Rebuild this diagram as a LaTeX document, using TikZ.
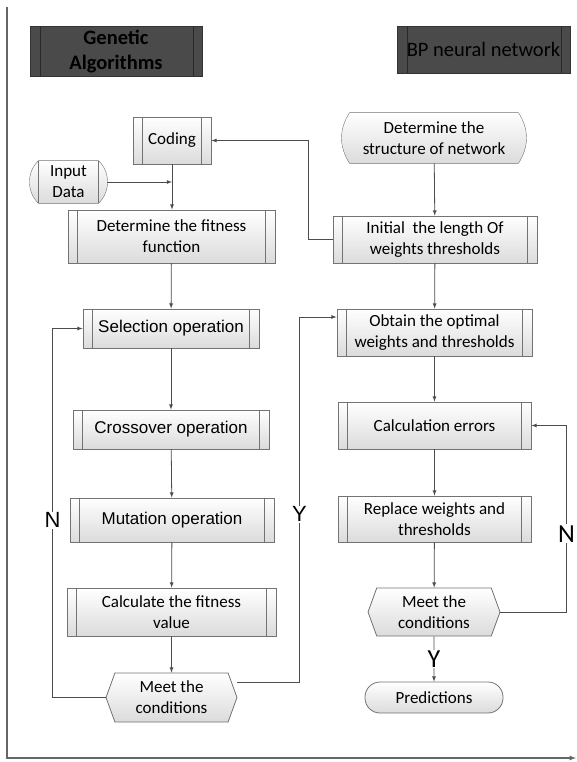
\documentclass[tikz,border=0pt]{standalone}
\usepackage{fontspec}
\setmainfont{Carlito}
\newfontfamily\arialfont{Liberation Sans}
\usetikzlibrary{shapes.geometric, shapes.symbols, arrows, calc, backgrounds}

\tikzstyle{process} = [rectangle,
draw=black!55,
top color=white,
bottom color=black!14,
align=center,
inner sep=2pt,
font=\fontsize{17}{21}\selectfont,
path picture={
\draw[black!55] ([xshift=9.5pt]path picture bounding box.north west) -- ([xshift=9.5pt]path picture bounding box.south west);
\draw[black!55] ([xshift=-9.5pt]path picture bounding box.north east) -- ([xshift=-9.5pt]path picture bounding box.south east);}]
\tikzstyle{arialbox} = [font=\arialfont\fontsize{17}{21}\selectfont]
\tikzstyle{header} = [rectangle,
draw=black!80,
fill=black!71,
align=center,
font=\fontsize{20.5}{24}\selectfont,
path picture={
\draw[black!84] ([xshift=10pt]path picture bounding box.north west) -- ([xshift=10pt]path picture bounding box.south west);
\draw[black!84] ([xshift=-9pt]path picture bounding box.north east) -- ([xshift=-9pt]path picture bounding box.south east);}]
\tikzstyle{decision} = [signal,
signal to=west and east,
signal pointer angle=140,
draw=black!55,
top color=white,
bottom color=black!14,
align=center,
inner sep=1pt,
font=\fontsize{17}{21}\selectfont]
\tikzstyle{startstop} = [rectangle, rounded corners=15pt,
draw=black!55,
top color=white,
bottom color=black!14,
font=\fontsize{17}{21}\selectfont]
\tikzstyle{datain} = [rectangle, align=center, inner sep=2pt,
font=\fontsize{17}{21}\selectfont]
\tikzstyle{datafill} = [draw=black!55, top color=white, bottom color=black!14]
\tikzstyle{arrow} = [->, >=latex, draw=black!70, line width=0.8pt]
\tikzstyle{yn} = [fill=white, inner sep=1pt]

\begin{document}
\begin{tikzpicture}[x=1pt, y=-1pt, line width=0.8pt]
\useasboundingbox (0,0) rectangle (577,762);

% column headers
\node (genetic) [header, minimum width=172, minimum height=47, font=\bfseries\fontsize{20.5}{25}\selectfont] at (116,51.5) {Genetic\\Algorithms};
\node (bpnet) [header, minimum width=173, minimum height=47] at (483.5,49.5) {BP neural network};

% genetic algorithm column
\node (coding) [process, minimum width=78, minimum height=47] at (172,140.5) {Coding};
\node (indata) [datain, minimum width=59, minimum height=42] at (68.5,182) {Input\\Data};
\node (fitfun) [process, minimum width=207, minimum height=53] at (171.5,236.5) {Determine the fitness\\function};
\node (select) [process, arialbox, minimum width=176, minimum height=39] at (171,328.5) {Selection operation};
\node (cross) [process, arialbox, minimum width=196, minimum height=39] at (171,429.5) {Crossover operation};
\node (mutate) [process, arialbox, minimum width=204, minimum height=44] at (172,520) {Mutation operation};
\node (calcfit) [process, minimum width=209, minimum height=48] at (171.5,612) {Calculate the fitness\\value};
\node (condga) [decision, minimum width=131, minimum height=49] at (171.5,697.5) {Meet the\\conditions};

% BP network column
\node (struct) [datain, minimum width=168, minimum height=50] at (434,138) {Determine the\\structure of network};
\node (init) [process, minimum width=204, minimum height=47] at (435,239.5) {Initial~ the length Of\\weights thresholds};
\node (obtain) [process, minimum width=195, minimum height=47] at (434.5,332.5) {Obtain the optimal\\weights and thresholds};
\node (calcerr) [process, minimum width=193, minimum height=47] at (434.5,425.5) {Calculation errors};
\node (replace) [process, minimum width=193, minimum height=46] at (434.5,519) {Replace weights and\\thresholds};
\node (condbp) [decision, minimum width=132, minimum height=48] at (434,612) {Meet the\\conditions};
\node (predict) [startstop, minimum width=138, minimum height=31] at (434,697.5) {Predictions};

\begin{pgfonlayer}{background}
\draw[datafill] (indata.north west) -- (indata.north east) to[bend left=47] (indata.south east) -- (indata.south west) to[bend left=47] (indata.north west) -- cycle;
\draw[black!55] (indata.north west) -- (indata.south west) (indata.north east) -- (indata.south east);
\draw[datafill] (struct.north west) -- (struct.north east) to[bend left=33] (struct.south east) -- (struct.south west) to[bend left=33] (struct.north west) -- cycle;
\end{pgfonlayer}

% axes
\draw [arrow, draw=black!60, line width=1.2pt] (7,7) -- (7,758) -- (576,758);

\draw [arrow] (coding) -- (coding.south |- fitfun.north);
\draw [arrow] ([xshift=9pt]indata.east) -- (indata.east -| coding.south);
\draw [arrow] (fitfun) -- (select);
\draw [arrow] (select) -- (cross);
\draw [arrow] (cross) -- (mutate);
\draw [arrow] (mutate) -- (calcfit);
\draw [arrow] (calcfit) -- (condga);
\draw [arrow] (condga.west) -- ++(-53,0) |- node[yn, pos=0.24, font=\arialfont\fontsize{22}{22}\selectfont] (nga) {N} (select.west);
\draw [arrow] ($(condga.east)+(0,-15)$) -- ++(62,0) |- node[yn, pos=0.23, font=\arialfont\fontsize{22}{22}\selectfont] (yga) {Y} (obtain.west |- 0,317);

\draw [arrow] (struct) -- (init);
\draw [arrow] (init.west) -- ++(-24,0) |- (coding.east);
\draw [arrow] (init) -- (obtain);
\draw [arrow] (obtain) -- (calcerr);
\draw [arrow] (calcerr) -- (replace);
\draw [arrow] (replace) -- (condbp);
\draw [arrow] (condbp.east) -- ++(66,0) |- node[yn, pos=0.21, font=\fontsize{26}{26}\selectfont] (nbp) {N} (calcerr.east);
\draw [arrow] (condbp) -- node[yn, font=\fontsize{26}{26}\selectfont] (ybp) {Y} (predict);
\end{tikzpicture}
\end{document}
